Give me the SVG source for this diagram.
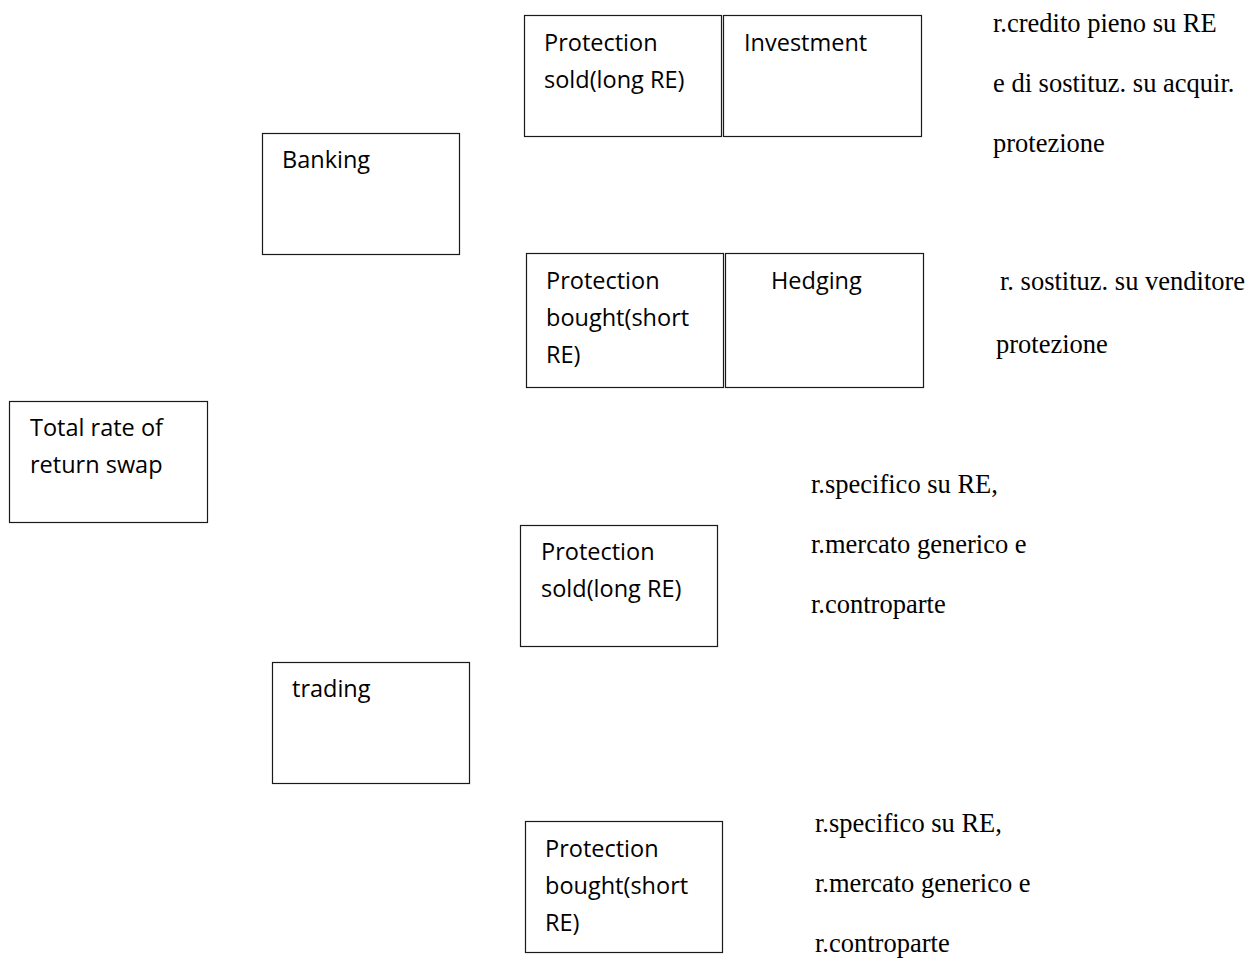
<svg xmlns="http://www.w3.org/2000/svg" width="1249" height="958" viewBox="0 0 1249 958">
  <style>
    .box { fill: #ffffff; stroke: #1a1a1a; stroke-width: 1.2; }
    .lbl { font-family: "Open Sans", "Liberation Sans", sans-serif; font-size: 23.5px; fill: #000000; }
    .note { font-family: "Liberation Serif", "Times New Roman", serif; font-size: 26.5px; fill: #000000; }
  </style>
  <rect x="0" y="0" width="1249" height="958" fill="#ffffff"/>

  <g id="total-rate-of-return-swap">
    <rect class="box" x="9.5" y="401.5" width="198" height="121"/>
    <text class="lbl" x="30" y="436">Total rate of</text>
    <text class="lbl" x="30" y="473">return swap</text>
  </g>

  <g id="banking">
    <rect class="box" x="262.5" y="133.5" width="197" height="121"/>
    <text class="lbl" x="282" y="168">Banking</text>
  </g>

  <g id="trading">
    <rect class="box" x="272.5" y="662.5" width="197" height="121"/>
    <text class="lbl" x="292" y="697">trading</text>
  </g>

  <g id="banking-protection-sold">
    <rect class="box" x="524.5" y="15.5" width="197" height="121"/>
    <text class="lbl" x="544" y="51">Protection</text>
    <text class="lbl" x="544" y="88">sold(long RE)</text>
  </g>

  <g id="investment">
    <rect class="box" x="723.5" y="15.5" width="198" height="121"/>
    <text class="lbl" x="744" y="51">Investment</text>
  </g>

  <g id="banking-protection-bought">
    <rect class="box" x="526.5" y="253.5" width="197" height="134"/>
    <text class="lbl" x="546" y="289">Protection</text>
    <text class="lbl" x="546" y="326">bought(short</text>
    <text class="lbl" x="546" y="363">RE)</text>
  </g>

  <g id="hedging">
    <rect class="box" x="725.5" y="253.5" width="198" height="134"/>
    <text class="lbl" x="771" y="289">Hedging</text>
  </g>

  <g id="trading-protection-sold">
    <rect class="box" x="520.5" y="525.5" width="197" height="121"/>
    <text class="lbl" x="541" y="560">Protection</text>
    <text class="lbl" x="541" y="597">sold(long RE)</text>
  </g>

  <g id="trading-protection-bought">
    <rect class="box" x="525.5" y="821.5" width="197" height="131"/>
    <text class="lbl" x="545" y="857">Protection</text>
    <text class="lbl" x="545" y="894">bought(short</text>
    <text class="lbl" x="545" y="931">RE)</text>
  </g>

  <!-- risk notes beside each position -->
  <g id="note-investment">
    <text class="note" x="993" y="32">r.credito pieno su RE</text>
    <text class="note" x="993" y="92">e di sostituz. su acquir.</text>
    <text class="note" x="993" y="152">protezione</text>
  </g>

  <g id="note-hedging">
    <text class="note" x="1000" y="290">r. sostituz. su venditore</text>
    <text class="note" x="996" y="353">protezione</text>
  </g>

  <g id="note-trading-sold">
    <text class="note" x="811" y="493">r.specifico su RE,</text>
    <text class="note" x="811" y="553">r.mercato generico e</text>
    <text class="note" x="811" y="613">r.controparte</text>
  </g>

  <g id="note-trading-bought">
    <text class="note" x="815" y="832">r.specifico su RE,</text>
    <text class="note" x="815" y="892">r.mercato generico e</text>
    <text class="note" x="815" y="952">r.controparte</text>
  </g>

  <g id="connectors"></g>
</svg>
